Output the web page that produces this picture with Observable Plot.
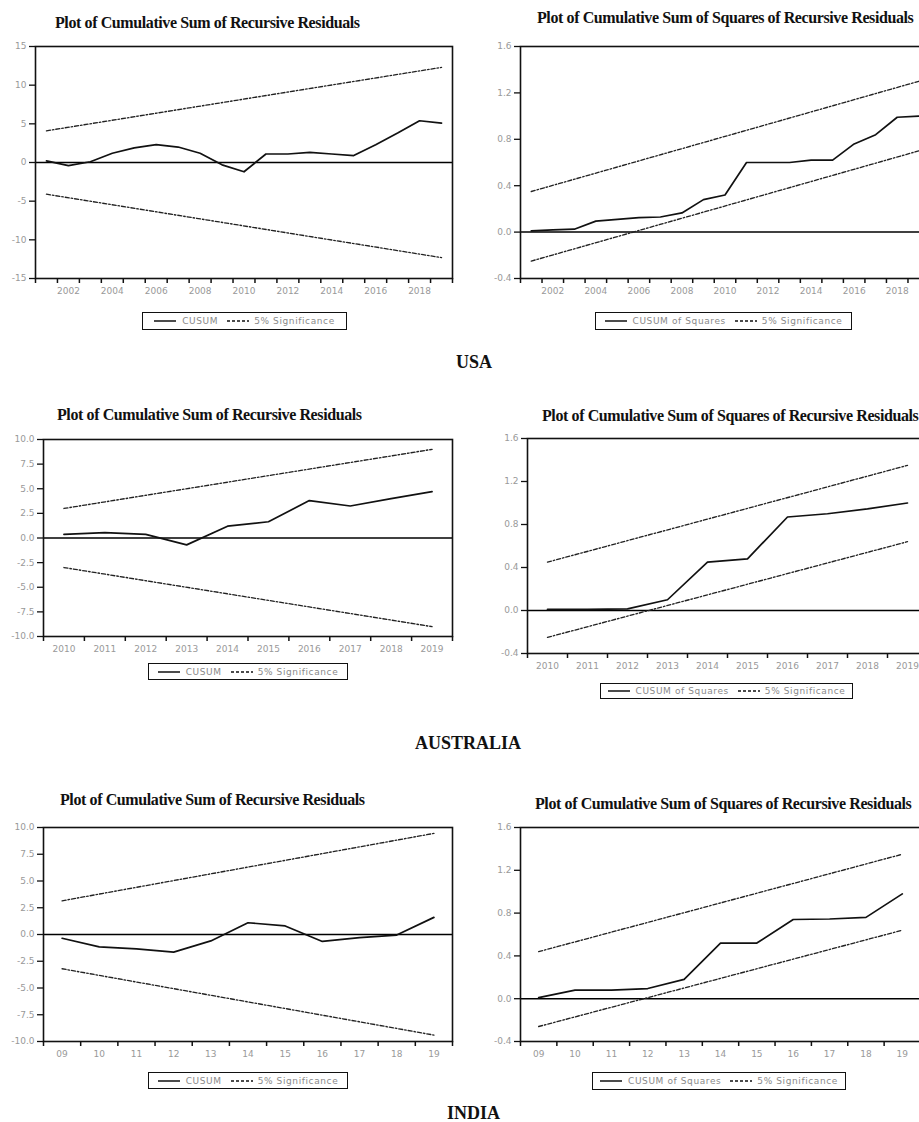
<!DOCTYPE html>
<html><head><meta charset="utf-8">
<script src="https://cdn.jsdelivr.net/npm/d3@7"></script>
<script src="https://cdn.jsdelivr.net/npm/@observablehq/plot@0.6"></script>
<style>
html,body{margin:0;padding:0;background:#fff;}
body{width:919px;height:1122px;overflow:hidden;position:relative;}
.abs{position:absolute;}
.title{font-family:"Liberation Serif","Times New Roman",serif;font-weight:bold;font-size:16px;white-space:nowrap;color:#111;letter-spacing:-0.4px;line-height:1;}
.country{font-family:"Liberation Serif","Times New Roman",serif;font-weight:bold;font-size:18px;line-height:1;color:#111;white-space:nowrap;}
.legend{border:1.5px solid #111;box-sizing:border-box;display:flex;align-items:center;justify-content:center;font-family:"DejaVu Sans",sans-serif;font-size:9px;color:#8a8a8a;letter-spacing:0.6px;white-space:nowrap;}
.legend svg{display:block;}
</style></head>
<body>
<script>
// ---------------- DATA ----------------
// USA (annual, 2001-2019)
const usaYears = [2001,2002,2003,2004,2005,2006,2007,2008,2009,2010,2011,2012,2013,2014,2015,2016,2017,2018,2019];
const usaCusum = [0.2,-0.4,0.1,1.2,1.9,2.3,2.0,1.2,-0.3,-1.2,1.1,1.1,1.3,1.1,0.9,2.3,3.8,5.4,5.1];
const usaCusumSq = [0.01,0.02,0.025,0.095,0.11,0.125,0.13,0.165,0.28,0.32,0.6,0.6,0.6,0.62,0.62,0.76,0.84,0.99,1.0];
const usaBoundYears = [2001, 2019];
const usaCusumUpper = [4.1, 12.3];
const usaCusumLower = [-4.1, -12.3];
const usaSqUpper = [0.35, 1.3];
const usaSqLower = [-0.25, 0.70];
const usaXLabels = [2002,2004,2006,2008,2010,2012,2014,2016,2018];

// AUSTRALIA (annual, 2010-2019)
const ausYears = [2010,2011,2012,2013,2014,2015,2016,2017,2018,2019];
const ausCusum = [0.37,0.55,0.37,-0.7,1.2,1.65,3.8,3.25,4.0,4.7];
const ausCusumSq = [0.01,0.01,0.015,0.10,0.45,0.48,0.87,0.90,0.945,1.0];
const ausBoundYears = [2010, 2019];
const ausCusumUpper = [3.0, 9.0];
const ausCusumLower = [-3.0, -9.0];
const ausSqUpper = [0.45, 1.35];
const ausSqLower = [-0.25, 0.64];
const ausXLabels = [2010,2011,2012,2013,2014,2015,2016,2017,2018,2019];

// INDIA (annual, 2009-2019)
const indYears = [2009,2010,2011,2012,2013,2014,2015,2016,2017,2018,2019];
const indCusum = [-0.35,-1.15,-1.35,-1.65,-0.6,1.1,0.8,-0.65,-0.3,-0.05,1.6];
const indCusumSq = [0.01,0.08,0.08,0.095,0.18,0.52,0.52,0.74,0.745,0.76,0.98];
const indBoundYears = [2009, 2019];
const indCusumUpper = [3.15, 9.45];
const indCusumLower = [-3.2, -9.4];
const indSqUpper = [0.44, 1.35];
const indSqLower = [-0.26, 0.64];
const indXLabels = [2009,2010,2011,2012,2013,2014,2015,2016,2017,2018,2019];

// y tick values
const cusumTicks15 = [-15,-10,-5,0,5,10,15];
const cusumTicks10 = [-10,-7.5,-5,-2.5,0,2.5,5,7.5,10];
const sqTicks = [-0.4,0,0.4,0.8,1.2,1.6];

const titleCusum = "Plot of Cumulative Sum of Recursive Residuals";
const titleSq = "Plot of Cumulative Sum of Squares of Recursive Residuals";

// ---------------- HELPERS ----------------
const rows = (xs, ys) => xs.map((x, i) => ({year: x, value: ys[i]}));

function panel(o) {
  const ml = 40, mr = 6, mt = 4, mb = 26;
  const first = o.years[0], last = o.years[o.years.length - 1];
  const edges = d3.range(first - 0.5, last + 1, 1);
  const svg = Plot.plot({
    width: Math.round(o.right - o.left + ml + mr),
    height: Math.round(o.bottom - o.top + mt + mb),
    marginLeft: ml, marginRight: mr, marginTop: mt, marginBottom: mb,
    x: {domain: [first - 0.5, last + 0.5], label: null},
    y: {domain: o.yDomain, label: null},
    style: {background: "none", maxWidth: "none", fontFamily: "DejaVu Sans, sans-serif", fontSize: "9px", overflow: "visible"},
    marks: [
      Plot.ruleY([0], {stroke: "#000", strokeWidth: 1.5}),
      Plot.line(rows(o.boundYears, o.upper), {x: "year", y: "value", stroke: "#222", strokeWidth: 1.35, strokeDasharray: "4,2,1.5,2"}),
      Plot.line(rows(o.boundYears, o.lower), {x: "year", y: "value", stroke: "#222", strokeWidth: 1.35, strokeDasharray: "4,2,1.5,2"}),
      Plot.line(rows(o.years, o.values), {x: "year", y: "value", stroke: "#111", strokeWidth: 1.7}),
      Plot.frame({stroke: "#111", strokeWidth: 1.6}),
      Plot.axisY(o.yTicks, {anchor: "left", tickSize: 6, tickPadding: 3, tickFormat: o.yFmt, stroke: "#111", strokeWidth: 1.3, fill: "#999"}),
      Plot.axisX(edges, {anchor: "bottom", tickSize: 5, tickFormat: () => "", stroke: "#111", strokeWidth: 1.5}),
      Plot.axisX(o.xLabels, {anchor: "bottom", tickSize: 0, tickPadding: 9, tickFormat: o.xFmt, fill: "#999"})
    ]
  });
  svg.style.position = "absolute";
  svg.style.left = (o.left - ml) + "px";
  svg.style.top = (o.top - mt) + "px";
  document.body.appendChild(svg);
}

function text(cls, str, left, top) {
  const d = document.createElement("div");
  d.className = cls + " abs";
  d.textContent = str;
  d.style.left = left + "px";
  d.style.top = top + "px";
  document.body.appendChild(d);
}

function sample(dash) {
  return `<svg width="22" height="4"><line x1="0" x2="22" y1="2" y2="2" stroke="#111" stroke-width="1.5" ${dash ? 'stroke-dasharray="3,2"' : ''}/></svg>`;
}

function legend(left, top, width, height, label) {
  const d = document.createElement("div");
  d.className = "legend abs";
  Object.assign(d.style, {left: left + "px", top: top + "px", width: width + "px", height: height + "px"});
  d.innerHTML = `${sample(false)}<span style="margin:0 9px 0 6px">${label}</span>${sample(true)}<span style="margin-left:5px">5% Significance</span>`;
  document.body.appendChild(d);
}

const fmtInt = d => String(d);
const fmt1 = d => d.toFixed(1);
const fmtYear = d => String(d);
const fmtYY = d => String(d % 100).padStart(2, "0");

// ---------------- USA ----------------
text("title", titleCusum, 55, 15);
panel({left: 35, top: 46, right: 452, bottom: 278, years: usaYears, values: usaCusum,
  boundYears: usaBoundYears, upper: usaCusumUpper, lower: usaCusumLower,
  yDomain: [-15, 15], yTicks: cusumTicks15, yFmt: fmtInt, xLabels: usaXLabels, xFmt: fmtYear});
legend(142, 312, 205, 18, "CUSUM");

text("title", titleSq, 537, 10);
panel({left: 520, top: 46, right: 928.5, bottom: 278, years: usaYears, values: usaCusumSq,
  boundYears: usaBoundYears, upper: usaSqUpper, lower: usaSqLower,
  yDomain: [-0.4, 1.6], yTicks: sqTicks, yFmt: fmt1, xLabels: usaXLabels, xFmt: fmtYear});
legend(595, 312, 257, 18, "CUSUM of Squares");

text("country", "USA", 456, 353);

// ---------------- AUSTRALIA ----------------
text("title", titleCusum, 57, 407);
panel({left: 43, top: 439, right: 452, bottom: 636, years: ausYears, values: ausCusum,
  boundYears: ausBoundYears, upper: ausCusumUpper, lower: ausCusumLower,
  yDomain: [-10, 10], yTicks: cusumTicks10, yFmt: fmt1, xLabels: ausXLabels, xFmt: fmtYear});
legend(148, 663, 200, 17, "CUSUM");

text("title", titleSq, 542, 408);
panel({left: 527, top: 438, right: 927, bottom: 653, years: ausYears, values: ausCusumSq,
  boundYears: ausBoundYears, upper: ausSqUpper, lower: ausSqLower,
  yDomain: [-0.4, 1.6], yTicks: sqTicks, yFmt: fmt1, xLabels: ausXLabels, xFmt: fmtYear});
legend(600, 683, 253, 16, "CUSUM of Squares");

text("country", "AUSTRALIA", 415, 734);

// ---------------- INDIA ----------------
text("title", titleCusum, 60, 792);
panel({left: 43, top: 827, right: 452, bottom: 1041, years: indYears, values: indCusum,
  boundYears: indBoundYears, upper: indCusumUpper, lower: indCusumLower,
  yDomain: [-10, 10], yTicks: cusumTicks10, yFmt: fmt1, xLabels: indXLabels, xFmt: fmtYY});
legend(148, 1072, 200, 17, "CUSUM");

text("title", titleSq, 535, 796);
panel({left: 520, top: 827, right: 920, bottom: 1041, years: indYears, values: indCusumSq,
  boundYears: indBoundYears, upper: indSqUpper, lower: indSqLower,
  yDomain: [-0.4, 1.6], yTicks: sqTicks, yFmt: fmt1, xLabels: indXLabels, xFmt: fmtYY});
legend(592, 1072, 254, 18, "CUSUM of Squares");

text("country", "INDIA", 447, 1104);
</script>
</body></html>
